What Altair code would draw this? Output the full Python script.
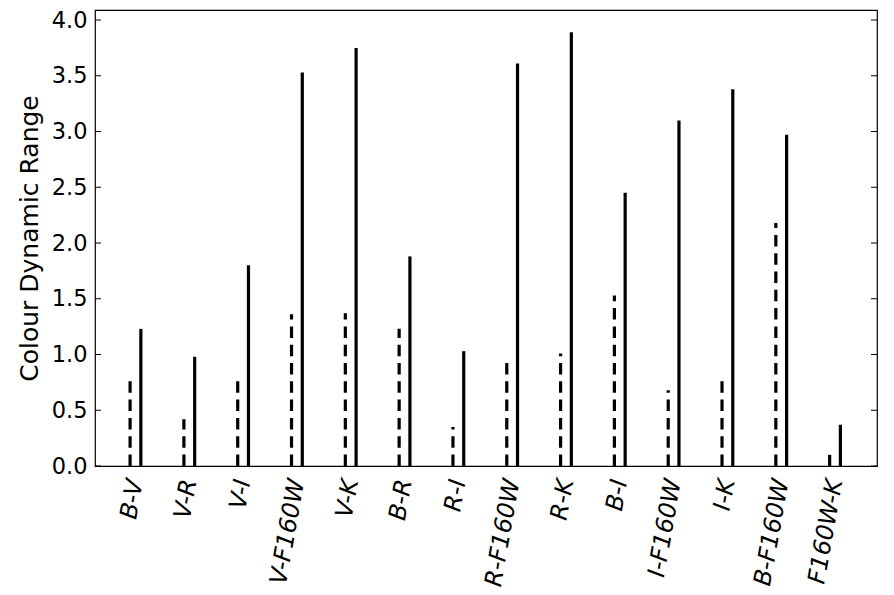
import altair as alt
import pandas as pd

categories = ["B-V", "V-R", "V-I", "V-F160W", "V-K", "B-R", "R-I", "R-F160W",
              "R-K", "B-I", "I-F160W", "I-K", "B-F160W", "F160W-K"]
dashed_vals = [0.78, 0.42, 0.78, 1.36, 1.37, 1.23, 0.35, 0.94, 1.01, 1.53, 0.68, 0.78, 2.18, 0.10]
solid_vals = [1.23, 0.98, 1.80, 3.53, 3.75, 1.88, 1.03, 3.61, 3.89, 2.45, 3.10, 3.38, 2.97, 0.37]
y_ticks = [0.0, 0.5, 1.0, 1.5, 2.0, 2.5, 3.0, 3.5, 4.0]

df = pd.DataFrame({"idx": list(range(len(categories))), "cat": categories,
                   "dashed": dashed_vals, "solid": solid_vals})
ticks_df = pd.DataFrame({"t": y_ticks})

W, H = 782, 456
xscale = alt.Scale(domain=[-0.752, 13.78], nice=False, zero=False)
yscale = alt.Scale(domain=[0, 4.09], nice=False)

label_expr = "[" + ",".join("'%s'" % c for c in categories) + "][datum.value]"

base = alt.Chart(df)

dashed = base.transform_calculate(xp="datum.idx - 0.1", y0="0").mark_rule(
    color="black", strokeWidth=3.2, strokeDash=[11.5, 6.8], strokeCap="butt"
).encode(
    x=alt.X("xp:Q", scale=xscale,
            axis=alt.Axis(values=list(range(len(categories))), labelExpr=label_expr,
                          title=None, ticks=False, domain=False, grid=False,
                          labelAngle=280, labelAlign="right", labelBaseline="middle",
                          labelFont="DejaVu Sans", labelFontStyle="italic",
                          labelFontSize=24, labelColor="black", labelPadding=13,
                          labelOverlap=False)),
    y=alt.Y("y0:Q", scale=yscale,
            axis=alt.Axis(values=y_ticks, format=".1f", title="Colour Dynamic Range",
                          ticks=False, domain=False, grid=False,
                          labelFont="DejaVu Sans", labelFontSize=22.5, labelColor="black",
                          labelPadding=8, titleFont="DejaVu Sans", titleFontSize=25,
                          titleFontWeight="normal", titleColor="black", titlePadding=9)),
    y2="dashed:Q",
)

solid = base.transform_calculate(xp="datum.idx + 0.1", y0="0").mark_rule(
    color="black", strokeWidth=3.2, strokeCap="butt"
).encode(
    x=alt.X("xp:Q", scale=xscale),
    y=alt.Y("y0:Q", scale=yscale),
    y2="solid:Q",
)

tick_base = alt.Chart(ticks_df)
left_ticks = tick_base.mark_rule(color="black", strokeWidth=1).encode(
    x=alt.value(0), x2=alt.value(6), y=alt.Y("t:Q", scale=yscale))
right_ticks = tick_base.mark_rule(color="black", strokeWidth=1).encode(
    x=alt.value(W - 6), x2=alt.value(W), y=alt.Y("t:Q", scale=yscale))

chart = alt.layer(dashed, solid, left_ticks, right_ticks).properties(
    width=W, height=H,
    padding={"left": 9, "top": 1, "right": 5, "bottom": 5},
    background="white",
).configure_view(stroke="black", strokeWidth=1.2)

chart.save("out.html", embed_options={"renderer": "svg", "actions": False})
